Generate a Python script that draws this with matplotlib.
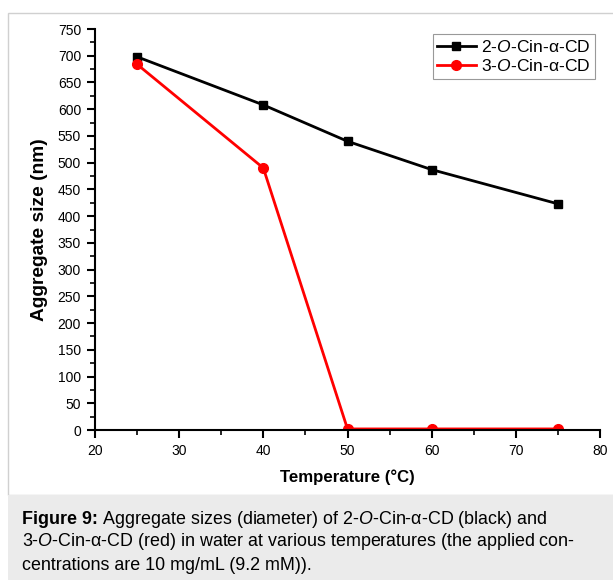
import matplotlib.pyplot as plt
from matplotlib.patches import Rectangle
from matplotlib.text import Annotation

# Data
temperature = [25, 40, 50, 60, 75]
size_2O = [698, 608, 540, 487, 423]
size_3O = [684, 490, 2, 2, 2]

label_2O = r'2-$\mathit{O}$-Cin-α-CD'
label_3O = r'3-$\mathit{O}$-Cin-α-CD'

caption_head = 'Figure 9:'
caption_lines = [
    r' Aggregate sizes (diameter) of 2-$\mathit{O}$-Cin-α-CD (black) and',
    r'3-$\mathit{O}$-Cin-α-CD (red) in water at various temperatures (the applied con-',
    'centrations are 10 mg/mL (9.2 mM)).',
]

plt.rcParams['font.family'] = ['Liberation Sans', 'DejaVu Sans']
plt.rcParams['mathtext.fontset'] = 'custom'
plt.rcParams['mathtext.rm'] = 'Liberation Sans'
plt.rcParams['mathtext.it'] = 'Liberation Sans:italic'
plt.rcParams['mathtext.bf'] = 'Liberation Sans:bold'

W, H = 613, 580
fig = plt.figure(figsize=(W / 100, H / 100), dpi=100)

# panel frame and caption background
fig.patches.append(Rectangle((8 / W, 1 - 495 / H), 1, (495 - 13) / H, transform=fig.transFigure,
                             facecolor='white', edgecolor='#d0d0d0', lw=1, zorder=-2))
fig.patches.append(Rectangle((8 / W, 0), 1, 1 - 495 / H, transform=fig.transFigure,
                             facecolor='#ebebeb', edgecolor='none', zorder=-1))

ax = fig.add_axes([95 / W, 1 - 430 / H, (600 - 95) / W, (430 - 29) / H])
ax.plot(temperature, size_2O, color='black', marker='s', markersize=6, lw=2, label=label_2O)
ax.plot(temperature, size_3O, color='red', marker='o', markersize=7, lw=2, label=label_3O)

ax.set_xlim(20, 80)
ax.set_ylim(0, 750)
ax.set_xticks(range(20, 81, 10))
ax.set_xticks(range(25, 80, 10), minor=True)
ax.set_yticks(range(0, 751, 50))
ax.set_yticks(range(25, 750, 50), minor=True)
ax.spines['top'].set_visible(False)
ax.spines['right'].set_visible(False)
ax.spines['left'].set_linewidth(1.5)
ax.spines['bottom'].set_linewidth(1.5)
ax.tick_params(which='major', direction='out', length=6, width=1.5, labelsize=10, pad=4)
ax.tick_params(which='minor', direction='out', length=3.5, width=1.2)
ax.patch.set_alpha(0)

ax.set_xlabel('Temperature (°C)', fontsize=12.1, fontweight='bold', labelpad=8)
ax.set_ylabel('Aggregate size (nm)', fontsize=13.8, fontweight='bold', labelpad=7)

leg = ax.legend(loc='upper right', fontsize=12.6, frameon=True, fancybox=False,
                edgecolor='#808080', handlelength=2.2, borderaxespad=0.3,
                handletextpad=0.3, borderpad=0.25, labelspacing=0.2)
leg.get_frame().set_linewidth(0.8)

# caption below the chart
cap_size = 12.9
head = fig.text(22 / W, 1 - 519 / H, caption_head, fontsize=cap_size, fontweight='bold',
                va='center', ha='left')
fig.add_artist(Annotation(caption_lines[0], xy=(1, 0.5), xycoords=head,
                          va='center', ha='left', fontsize=cap_size))
for i, line in enumerate(caption_lines[1:]):
    fig.text(22 / W, 1 - (519 + (i + 1) * 23) / H, line, fontsize=cap_size, va='center', ha='left')

fig.savefig('out.png', dpi=100)
